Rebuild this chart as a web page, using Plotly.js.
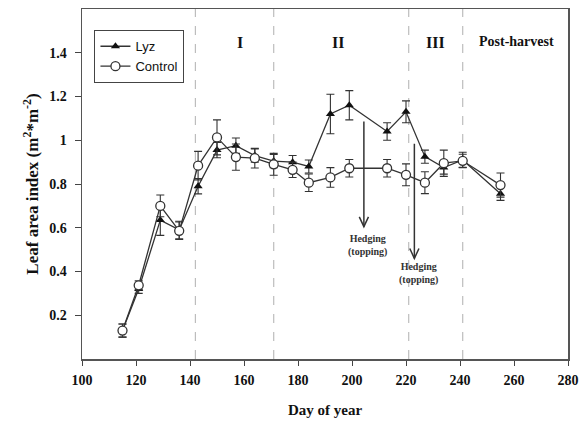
<!DOCTYPE html>
<html>
<head>
<meta charset="utf-8">
<script src="https://cdn.plot.ly/plotly-3.0.1.min.js"></script>
<style>html,body{margin:0;padding:0;background:#fff;}#chart{width:581px;height:427px;}</style>
</head>
<body>
<div id="chart"></div>
<script>
const days = [115,121,129,136,143,150,157,164,171,178,184,192,199,213,220,227,234,241,255];
const lyz = [0.13,0.32,0.635,0.59,0.79,0.955,0.975,0.93,0.905,0.90,0.88,1.12,1.16,1.04,1.13,0.925,0.875,0.91,0.755];
const lyzErr = [0.03,0.02,0.07,0.04,0.035,0.035,0.035,0.03,0.03,0.03,0.03,0.09,0.067,0.04,0.05,0.03,0.03,0.035,0.03];
const ctrl = [0.13,0.337,0.70,0.586,0.884,1.013,0.923,0.918,0.89,0.865,0.806,0.83,0.872,0.872,0.842,0.806,0.895,0.906,0.795];
const ctrlErr = [0.03,0.02,0.05,0.04,0.065,0.08,0.06,0.045,0.05,0.035,0.04,0.045,0.04,0.04,0.05,0.05,0.06,0.03,0.055];

const phaseLines = [142, 171, 221, 241];
const phaseNames = ["I", "II", "III", "Post-harvest"];
const phaseLabelX = [158.5, 194.7, 231, 261];

const hedgeDays = [204.4, 223.1];
const hedgeTop = [1.086, 0.984];
const hedgeBottom = [0.605, 0.46];
const hedgeTextY = [0.52, 0.39];
const hedgeText = "Hedging<br>(topping)";

const yTicks = [0.2, 0.4, 0.6, 0.8, 1.0, 1.2, 1.4];
const yTickText = ["0.2", "0.4", "0.6", "0.8", "1", "1.2", "1.4"];
const xTicks = [100,120,140,160,180,200,220,240,260,280];

const serif = "Liberation Serif, Times New Roman, serif";
const lineCol = "#333333";

const traces = [
  {
    x: days, y: lyz, name: "Lyz", type: "scatter", mode: "lines+markers",
    line: {color: lineCol, width: 1.3},
    marker: {symbol: "triangle-up", size: 8, color: "#111"},
    error_y: {type: "data", array: lyzErr, visible: true, color: lineCol, thickness: 1.1, width: 4}
  },
  {
    x: days, y: ctrl, name: "Control", type: "scatter", mode: "lines+markers",
    line: {color: lineCol, width: 1.3},
    marker: {symbol: "circle", size: 9, color: "#fff", line: {color: lineCol, width: 1.3}},
    error_y: {type: "data", array: ctrlErr, visible: true, color: lineCol, thickness: 1.1, width: 4}
  }
];

const shapes = phaseLines.map(d => ({
  type: "line", xref: "x", yref: "paper", x0: d, x1: d, y0: 0, y1: 1,
  line: {color: "#bdbdbd", width: 1.2, dash: "dash"}, layer: "below"
}));
hedgeDays.forEach((d, i) => {
  shapes.push({
    type: "line", xref: "x", yref: "y", x0: d, x1: d, y0: hedgeTop[i], y1: hedgeBottom[i],
    line: {color: lineCol, width: 1.5}
  });
  shapes.push({
    type: "path", xref: "x", yref: "y",
    path: `M ${d - 1.7} ${hedgeBottom[i] + 0.045} L ${d} ${hedgeBottom[i]} L ${d + 1.7} ${hedgeBottom[i] + 0.045}`,
    line: {color: lineCol, width: 1.5}
  });
});

const annotations = [];
phaseNames.forEach((n, i) => {
  annotations.push({
    x: phaseLabelX[i], y: 0.934, xref: "x", yref: "paper", text: n, showarrow: false,
    font: {family: serif, size: n.length > 3 ? 14 : 16, color: "#111", weight: "bold"}
  });
});
hedgeDays.forEach((d, i) => {
  annotations.push({
    x: d + 1.5, y: hedgeTextY[i], xref: "x", yref: "y", text: hedgeText, showarrow: false,
    font: {family: serif, size: 10, color: "#333", weight: "bold"}
  });
});

const layout = {
  width: 581, height: 427,
  margin: {l: 82, r: 13, t: 9, b: 68},
  paper_bgcolor: "#fff", plot_bgcolor: "#fff",
  showlegend: true,
  legend: {
    x: 0.025, y: 0.94, xanchor: "left", yanchor: "top",
    bordercolor: "#444", borderwidth: 1.3, bgcolor: "#fff",
    font: {family: "Liberation Sans, Arial, sans-serif", size: 13, color: "#111"},
    tracegroupgap: 2, itemwidth: 30
  },
  xaxis: {
    range: [100, 280], tickvals: xTicks, ticks: "outside", ticklen: 5, tickcolor: "#444",
    showline: true, linecolor: "#555", linewidth: 1.5, mirror: true, showgrid: false, zeroline: false,
    ticklabelstandoff: 3,
    tickfont: {family: serif, size: 14, color: "#111", weight: "bold"},
    title: {text: "Day of year", font: {family: serif, size: 15, color: "#111", weight: "bold"}, standoff: 17}
  },
  yaxis: {
    range: [0, 1.6], tickvals: yTicks, ticktext: yTickText, ticks: "outside", ticklen: 6, tickcolor: "#444",
    showline: true, linecolor: "#555", linewidth: 1.5, mirror: true, showgrid: false, zeroline: false,
    ticklabelstandoff: 5,
    tickfont: {family: serif, size: 14, color: "#111", weight: "bold"},
    title: {text: "Leaf area index (m<sup>2</sup>*m<sup>-2</sup>)", font: {family: serif, size: 17, color: "#111", weight: "bold"}, standoff: 6}
  },
  shapes: shapes,
  annotations: annotations
};

Plotly.newPlot("chart", traces, layout, {displayModeBar: false, staticPlot: true});
</script>
</body>
</html>
